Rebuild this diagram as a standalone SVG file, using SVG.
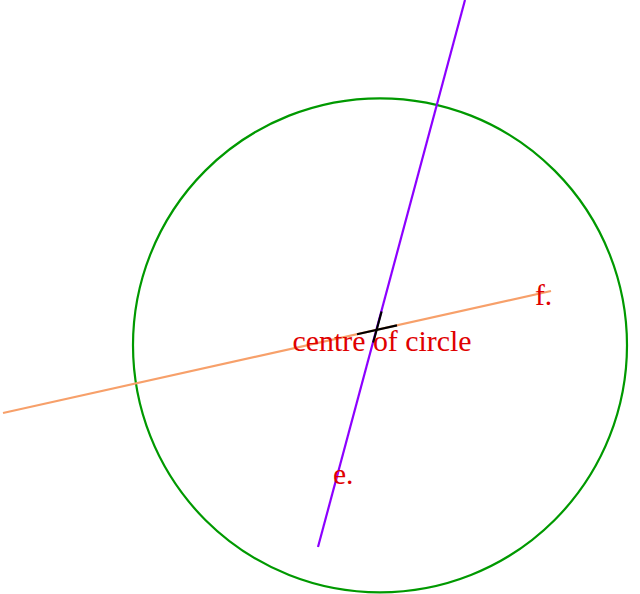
<svg xmlns="http://www.w3.org/2000/svg" width="640" height="594" viewBox="0 0 640 594">
<style>
.lbl{font-family:"Liberation Serif","DejaVu Serif",serif;font-size:29.5px;fill:#e00000}
.ln{fill:none;stroke-width:2.2}
</style>
<rect width="640" height="594" fill="#ffffff"/>
<g id="circle">
<circle cx="380" cy="345.3" r="247" class="ln" stroke="#009900"/>
</g>
<g id="connectors">
<line x1="465" y1="0" x2="318" y2="547" class="ln" stroke="#8c00ff"/>
<line x1="3" y1="413" x2="551" y2="291" class="ln" stroke="#f7a06a"/>
<line x1="357" y1="334.3" x2="397" y2="325.4" class="ln" stroke="#000000"/>
<line x1="381.6" y1="311.5" x2="373.2" y2="342.5" class="ln" stroke="#000000"/>
</g>
<g id="centre">
<text x="382" y="351" text-anchor="middle" class="lbl" textLength="179" lengthAdjust="spacingAndGlyphs">centre of circle</text>
</g>
<g id="e">
<text x="333" y="484" class="lbl">e.</text>
</g>
<g id="f">
<text x="535" y="305" class="lbl">f.</text>
</g>
</svg>
